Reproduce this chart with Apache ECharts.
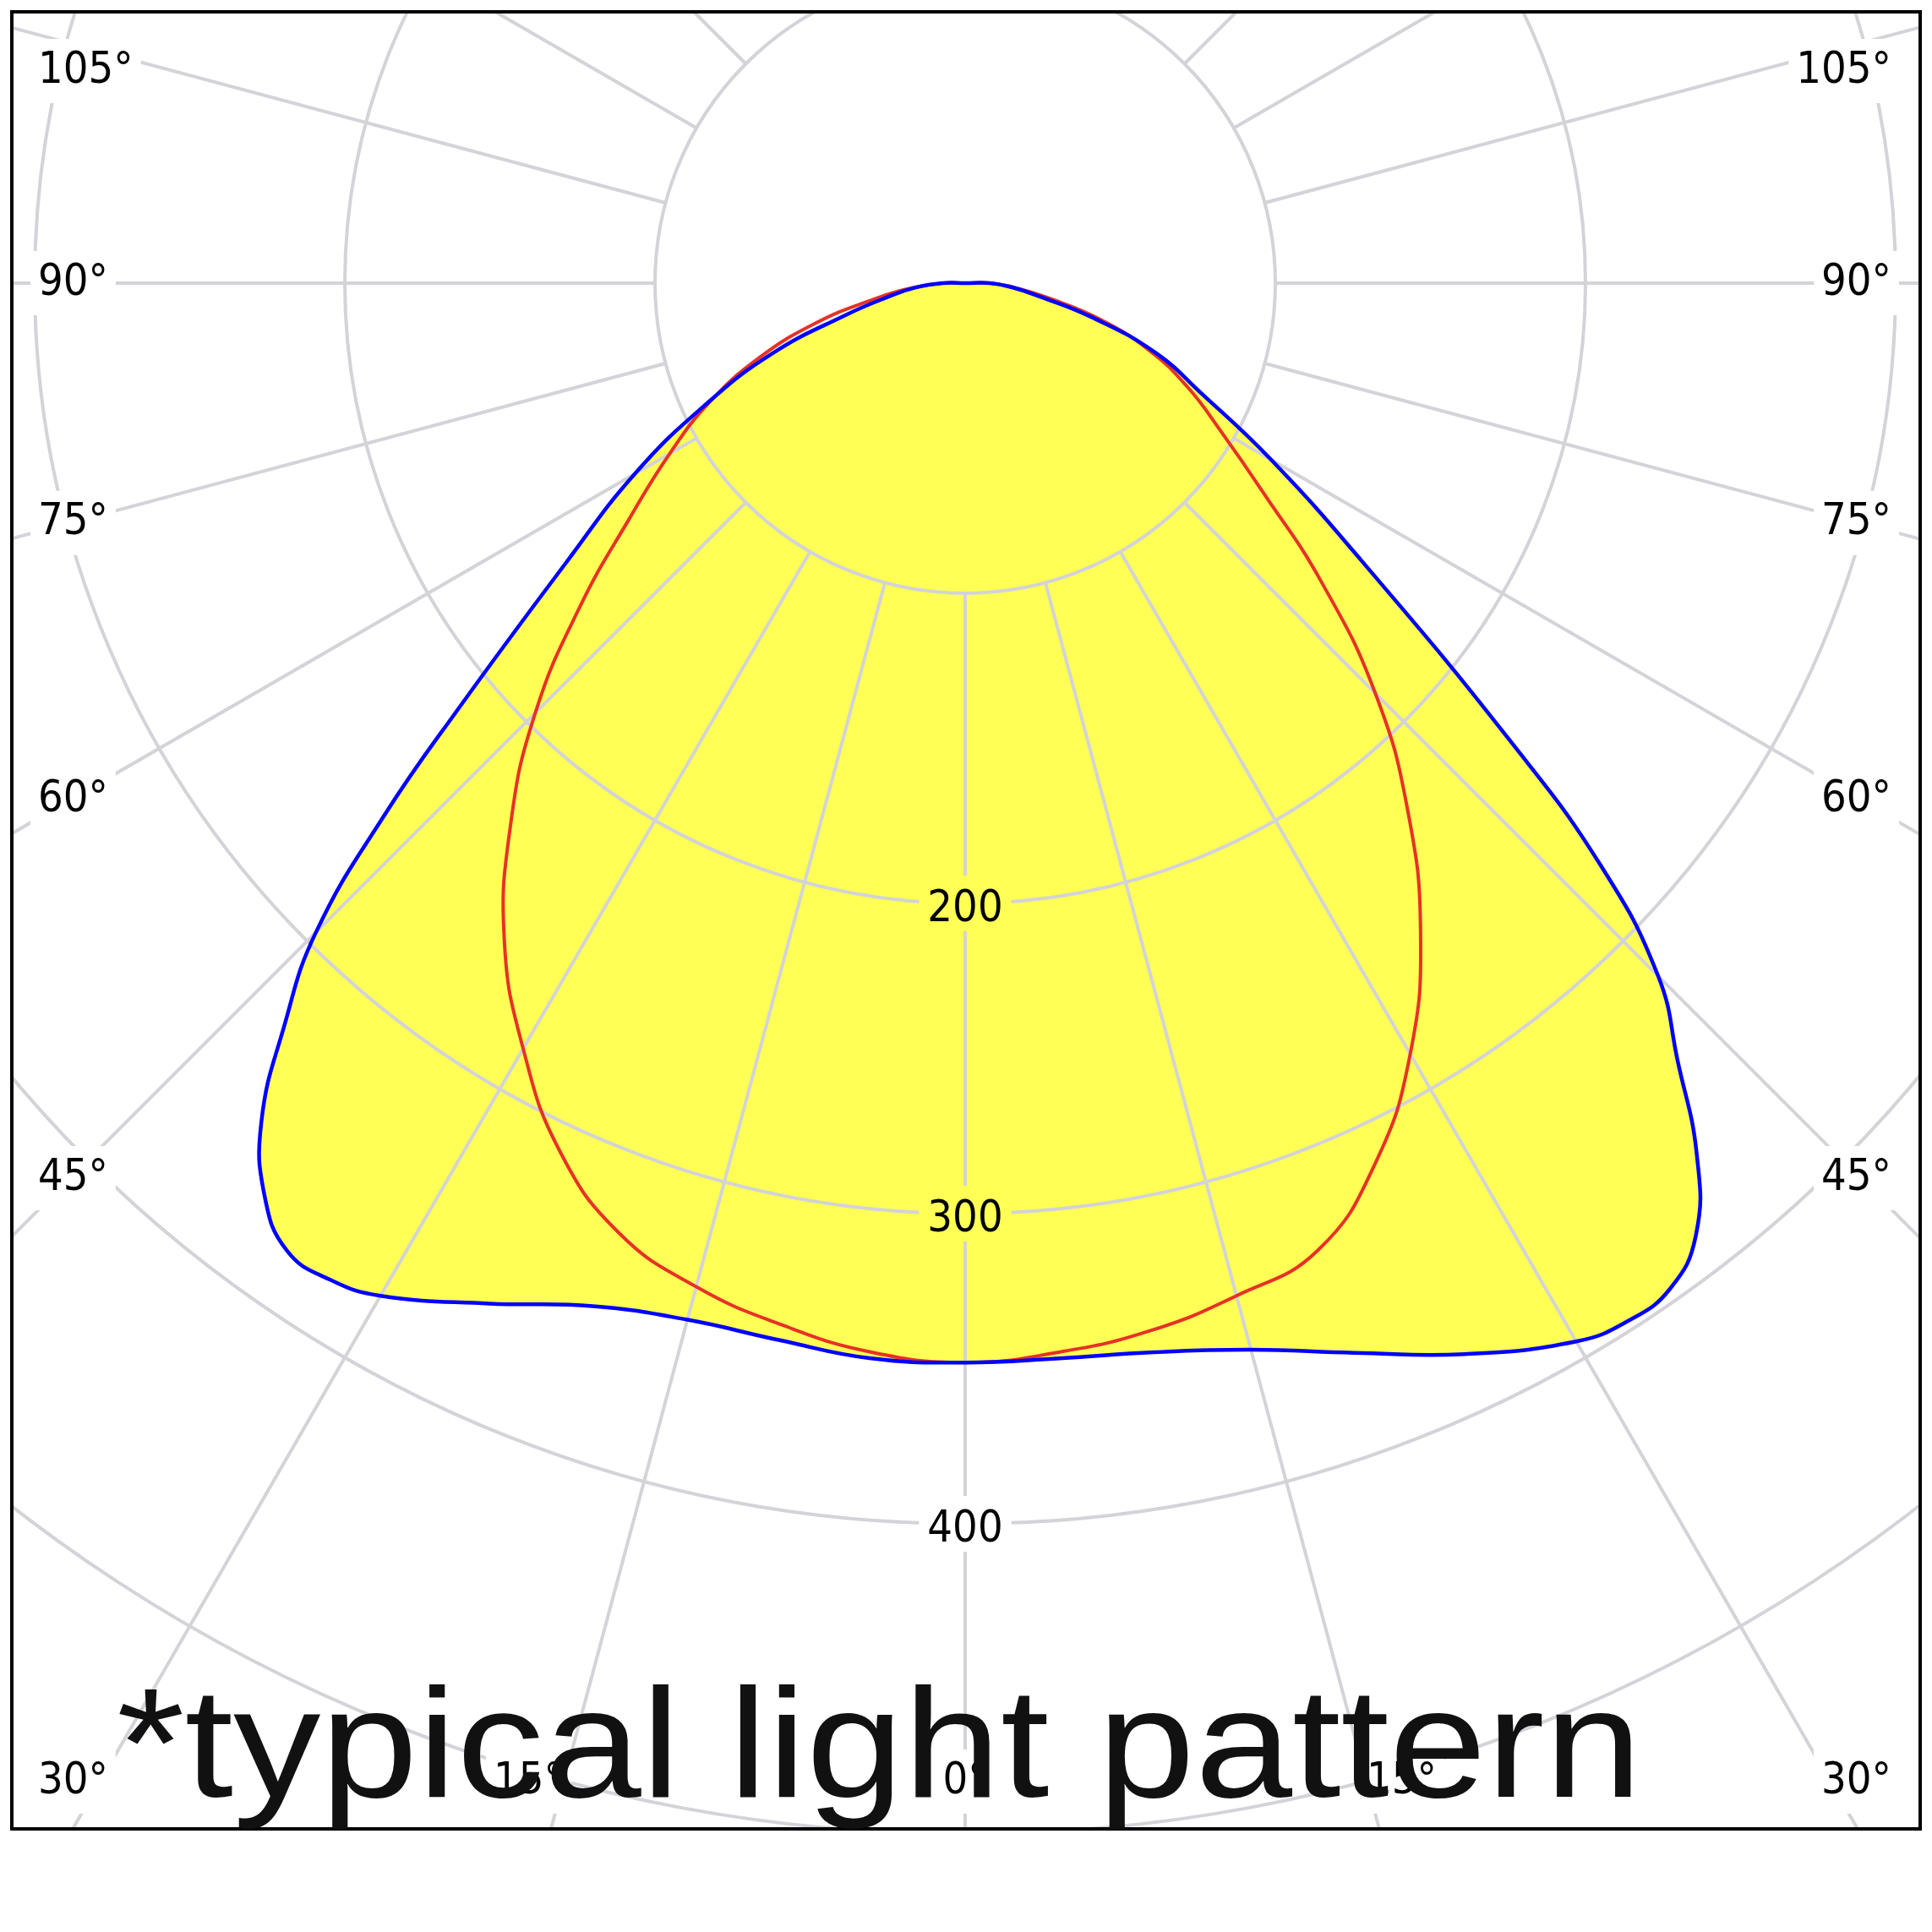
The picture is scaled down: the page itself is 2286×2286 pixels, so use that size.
<!DOCTYPE html>
<html>
<head>
<meta charset="utf-8">
<title>typical light pattern</title>
<script src="https://cdn.jsdelivr.net/npm/echarts@6/dist/echarts.min.js"></script>
<style>
  html, body { margin: 0; padding: 0; background: #fff; }
  #main { width: 2286px; height: 2286px; }
</style>
</head>
<body>
<div id="main"></div>
<script>
// gamma = angle from straight down, intensities
var blueGammas = [0, 5, 10, 15, 20, 25, 30, 32.5, 35, 37.5, 40, 42.5, 45, 47.5, 50, 55, 60, 65, 70, 75, 80, 85, 90, 180];
var blueLeft   = [348, 348, 346, 346, 351, 363, 377, 381, 381, 371, 353, 325, 296, 254, 213, 157, 123, 92, 66, 40, 25, 16, 7, 0];
var blueRight  = [348, 348, 350, 356, 367, 381, 394, 397, 396, 387, 367, 340, 316, 278, 229, 156, 114, 84, 65, 42, 24, 15, 8, 0];

var redGammas  = [0, 5, 10, 15, 20, 25, 30, 35, 40, 45, 50, 55, 60, 65, 70, 75, 80, 85, 90, 180];
var redLeft    = [348, 346, 341, 335, 326, 309, 285, 259, 228, 196, 162, 132, 110, 91, 71, 50, 30, 17, 7, 0];
var redRight   = [348, 346, 343, 338, 332, 313, 287, 256, 222, 187, 150, 117, 95, 79, 63, 45, 27, 16, 8, 0];

var radiusLabels = [200, 300, 400];
var sideAngles   = [105, 90, 75, 60, 45, 30];
var bottomAngles = [15, 0];
var caption = '*typical light pattern';

// layout
var W = 2286;
var cx = 1142, cy = 335;
var pxPerStep = 367;       // one 100 step
var rMax = 600;
var box = { x1: 14, y1: 14, x2: 2272, y2: 2164 };
var gridColor = '#d3d3d8';
var fillColor = '#ffff55';
var labelFamily = '"DejaVu Sans Condensed", "DejaVu Sans", sans-serif';
var labelFont = '52px ' + labelFamily;

// left half goes 0..180 on the angle axis, right half back from 180 to 360
function curve(gs, left, right) {
  var pts = [];
  for (var i = 0; i < gs.length; i++) pts.push([left[i], gs[i]]);
  for (var j = gs.length - 2; j > 0; j--) pts.push([right[j], 360 - gs[j]]);
  return pts;
}

// whole outline drawn once, as a smooth closed path through the polar coords
function outline(style) {
  return function (params, api) {
    if (params.dataIndex !== 0) return;
    var pts = [];
    for (var i = 0; i < params.dataInsideLength; i++) {
      pts.push(api.coord([api.value(0, i), api.value(1, i)]));
    }
    return { type: 'polygon', shape: { points: pts, smooth: 0.45 }, style: style };
  };
}

var rad = Math.PI / 180;
function sideY(g) {
  var y = cy + (cx - 83) / Math.tan(g * rad);
  return Math.min(Math.max(y, 84), 2108);
}

function degLabel(x, y, text, align) {
  return {
    type: 'text', z: 100, x: x, y: y,
    style: {
      text: text, font: labelFont, fill: '#000',
      align: align, verticalAlign: 'middle',
      backgroundColor: '#fff', padding: [12, 9]
    }
  };
}

var graphics = [
  { type: 'rect', z: 90, shape: { x: 0, y: 0, width: W, height: box.y1 }, style: { fill: '#fff' } },
  { type: 'rect', z: 90, shape: { x: 0, y: box.y2, width: W, height: W - box.y2 }, style: { fill: '#fff' } },
  { type: 'rect', z: 90, shape: { x: 0, y: 0, width: box.x1, height: W }, style: { fill: '#fff' } },
  { type: 'rect', z: 90, shape: { x: box.x2, y: 0, width: W - box.x2, height: W }, style: { fill: '#fff' } }
];

sideAngles.forEach(function (g) {
  var y = sideY(g);
  graphics.push(degLabel(36, y, g + '°', 'left'));
  graphics.push(degLabel(2247, y, g + '°', 'right'));
});
bottomAngles.forEach(function (g) {
  var dx = (2108 - cy) * Math.tan(g * rad);
  if (g === 0) {
    graphics.push(degLabel(cx, 2108, g + '°', 'center'));
  } else {
    graphics.push(degLabel(cx - dx + 9, 2108, g + '°', 'right'));
    graphics.push(degLabel(cx + dx - 9, 2108, g + '°', 'left'));
  }
});

graphics.push({
  type: 'rect', z: 95,
  shape: { x: box.x1, y: box.y1, width: box.x2 - box.x1, height: box.y2 - box.y1 },
  style: { fill: 'none', stroke: '#000', lineWidth: 4 }
});
graphics.push({
  type: 'text', z: 120, x: 138, y: 2076, scaleX: 1.13,
  style: {
    text: caption, font: '183px "Liberation Sans", Arial, sans-serif',
    fill: '#111', align: 'left', verticalAlign: 'middle'
  }
});

var chart = echarts.init(document.getElementById('main'));

var labelRich = {
  fontSize: 52, fontFamily: labelFamily, color: '#000',
  padding: [14, 10, 0, 10], lineHeight: 45
};

var option = {
  animation: false,
  backgroundColor: '#fff',
  polar: [
    { center: [cx, cy], radius: [pxPerStep, pxPerStep * rMax / 100] },
    { center: [cx, cy], radius: [0, pxPerStep * rMax / 100] }
  ],
  angleAxis: [
    {
      polarIndex: 0, type: 'value', min: 0, max: 360, interval: 15,
      startAngle: 270, clockwise: true, z: 3,
      axisLine: { show: false }, axisTick: { show: false }, axisLabel: { show: false },
      splitLine: { show: true, lineStyle: { color: gridColor, width: 4 } }
    },
    {
      polarIndex: 1, show: false, type: 'value', min: 0, max: 360,
      startAngle: 270, clockwise: true
    }
  ],
  radiusAxis: [
    {
      polarIndex: 0, min: 100, max: rMax, interval: 100, z: 3,
      axisLine: { show: false }, axisTick: { show: false },
      splitLine: { show: true, lineStyle: { color: gridColor, width: 4 } },
      axisLabel: {
        show: true, margin: 0, align: 'center', verticalAlign: 'middle',
        fontSize: 52, fontFamily: labelFamily, color: '#000',
        formatter: function (v) {
          if (radiusLabels.indexOf(v) < 0) return '';
          // labels inside the lit area sit on yellow
          return (v < blueLeft[0] ? '{y|' : '{w|') + v + '}';
        },
        rich: {
          y: Object.assign({ backgroundColor: fillColor }, labelRich),
          w: Object.assign({ backgroundColor: '#fff' }, labelRich)
        }
      }
    },
    { polarIndex: 1, show: false, min: 0, max: rMax }
  ],
  series: [
    {
      name: 'area', type: 'custom', coordinateSystem: 'polar', polarIndex: 1, z: 1,
      data: curve(blueGammas, blueLeft, blueRight),
      renderItem: outline({ fill: fillColor, stroke: null })
    },
    {
      name: 'C90-C270', type: 'custom', coordinateSystem: 'polar', polarIndex: 1, z: 5,
      data: curve(redGammas, redLeft, redRight),
      renderItem: outline({ fill: 'none', stroke: '#e63226', lineWidth: 4 })
    },
    {
      name: 'C0-C180', type: 'custom', coordinateSystem: 'polar', polarIndex: 1, z: 6,
      data: curve(blueGammas, blueLeft, blueRight),
      renderItem: outline({ fill: 'none', stroke: '#0000ff', lineWidth: 4.5 })
    }
  ],
  graphic: graphics
};

chart.setOption(option);
</script>
</body>
</html>
